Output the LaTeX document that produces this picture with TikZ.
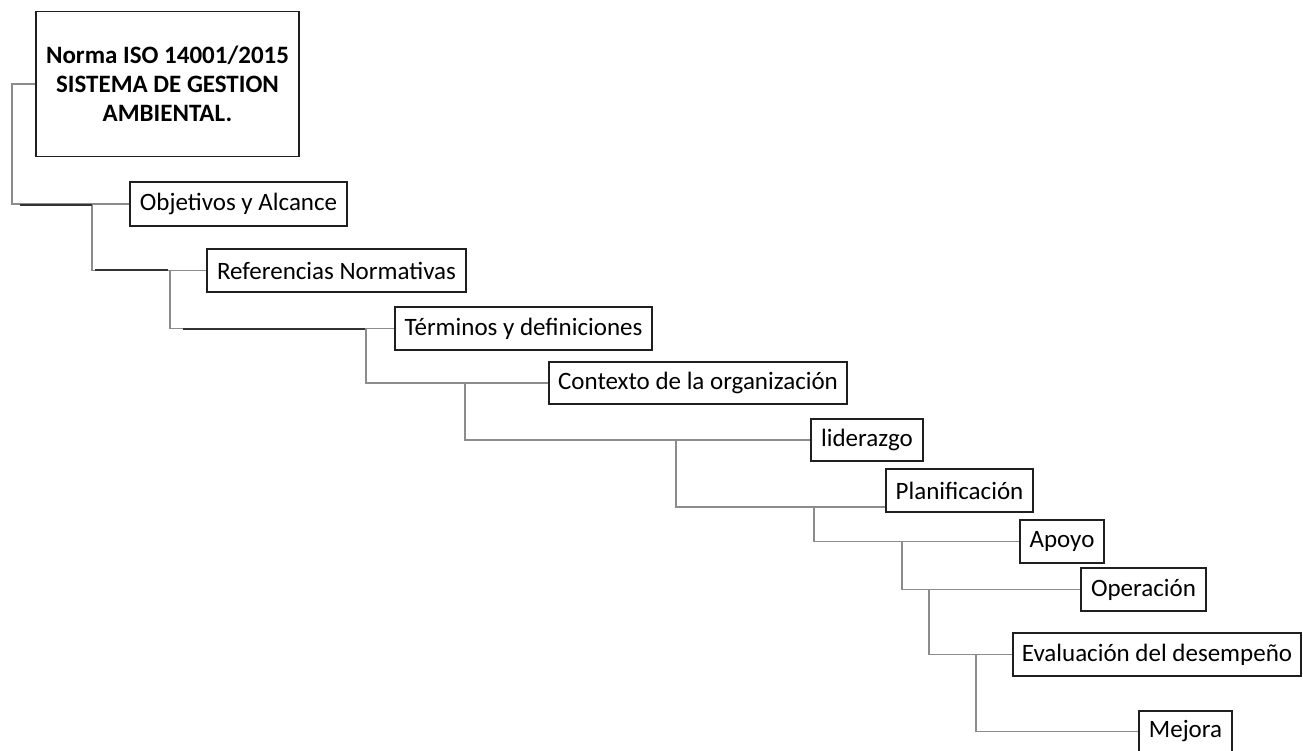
\documentclass[tikz,border=0pt]{standalone}
\usepackage{fontspec}
\setmainfont{Carlito}
\begin{document}
\begin{tikzpicture}[x=1pt,y=-1pt,
  box/.style={draw=black!88, line width=1.3pt, fill=white, inner sep=0pt, anchor=center,
              font=\fontsize{25}{30}\selectfont},
  conn/.style={draw=black!45, line width=1.1pt},
  dark/.style={draw=black!80, line width=1.1pt}]
\useasboundingbox (0,0) rectangle (1303,751);
\node[box, minimum width=263pt, minimum height=145pt, align=center, font=\fontsize{25}{29}\selectfont\bfseries] (root) at (167.5,84)
  {Norma ISO 14001/2015\\SISTEMA DE GESTION\\AMBIENTAL.};
\node[box, minimum width=217pt, minimum height=44pt] (obj) at (238.5,204) {Objetivos y Alcance};
\node[box, minimum width=259pt, minimum height=43pt] (ref) at (336.5,270.5) {Referencias Normativas};
\node[box, minimum width=257pt, minimum height=43pt] (ter) at (523.5,328.5) {Términos y definiciones};
\node[box, minimum width=298pt, minimum height=42pt] (ctx) at (698,383) {Contexto de la organización};
\node[box, minimum width=112pt, minimum height=42pt] (lid) at (867,440) {liderazgo};
\node[box, minimum width=147pt, minimum height=43pt] (pla) at (959.5,490.5) {Planificación};
\node[box, minimum width=84pt, minimum height=43pt] (apo) at (1062,541.5) {Apoyo};
\node[box, minimum width=125pt, minimum height=43pt] (ope) at (1143.5,589.5) {Operación};
\node[box, minimum width=288pt, minimum height=43pt] (eva) at (1157,654.5) {Evaluación del desempeño};
\node[box, minimum width=93pt, minimum height=41pt] (mej) at (1185.5,731.5) {Mejora};

\coordinate (r0) at (12,84);
\coordinate (j1) at (92,204);
\coordinate (j2) at (170,271);
\coordinate (j3) at (366,328.5);
\coordinate (j4) at (465,383);
\coordinate (j5) at (676,440);
\coordinate (j6) at (814,507);
\coordinate (j7) at (902,542);
\coordinate (j8) at (929,589);
\coordinate (j9) at (976,655);

\draw[conn] (root.west) -- (r0) |- (obj.west);
\draw[conn] (j1) |- (ref.west);
\draw[conn] (j2) |- (ter.west);
\draw[conn] (j3) |- (ctx.west);
\draw[conn] (j4) |- (lid.west);
\draw[conn] (j5) |- ([yshift=-16.5pt]pla.west);
\draw[conn] (j6) |- (apo.west);
\draw[conn] (j7) |- (ope.west);
\draw[conn] (j8) |- (eva.west);
\draw[conn] (j9) |- (mej.west);

\coordinate (d1a) at (20,205);  \coordinate (d1b) at (92,205);
\coordinate (d2a) at (95,270);  \coordinate (d2b) at (168,270);
\coordinate (d3a) at (183,329); \coordinate (d3b) at (365,329);
\draw[dark] (d1a) -- (d1b);
\draw[dark] (d2a) -- (d2b);
\draw[dark] (d3a) -- (d3b);
\end{tikzpicture}
\end{document}
